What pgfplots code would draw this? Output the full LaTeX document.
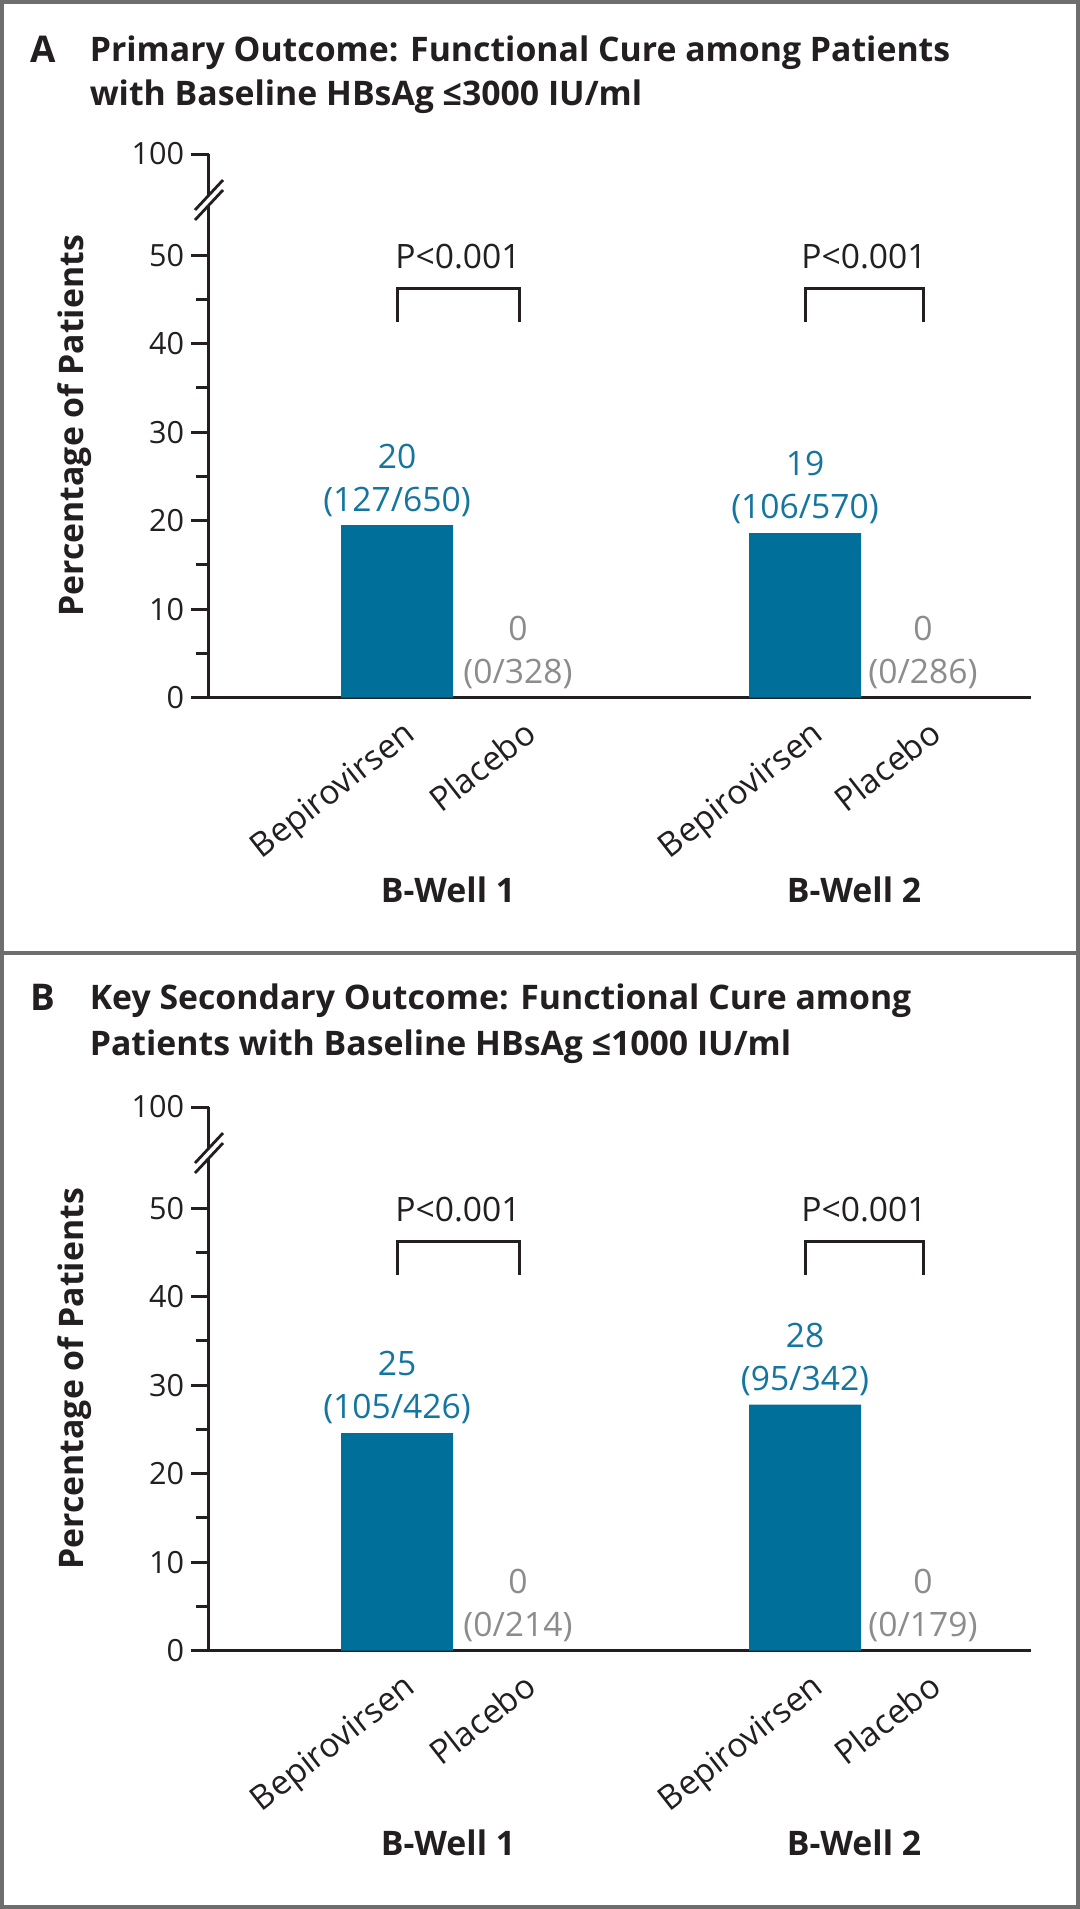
\documentclass[border=0pt]{standalone}
\usepackage{fontspec}
\setmainfont{Open Sans}
\usepackage{pgfplots}
\pgfplotsset{compat=1.18}
\definecolor{barblue}{RGB}{0,112,155}
\definecolor{lblblue}{RGB}{20,118,160}
\definecolor{lblgray}{RGB}{140,140,140}
\definecolor{ink}{RGB}{35,31,32}
\definecolor{framegray}{RGB}{110,110,110}
\newcommand\fsreg{\fontsize{8.4}{10.75}\selectfont}
\newcommand\fstick{\fontsize{7.65}{9}\selectfont}
\newcommand\fstitle{\fontsize{8.45}{11}\selectfont\bfseries}
\newcommand\fspanel{\fontsize{9.2}{11}\selectfont\bfseries}
\pgfplotsset{panel/.style={
  scale only axis, width=205.5pt, height=135.925pt, anchor=south west,
  xmin=209, xmax=1031, ymin=0, ymax=61.435,
  axis x line*=bottom, axis y line*=left,
  axis line style={line width=0.75pt, ink},
  xtick={397,518,805,923},
  xticklabels={Bepirovirsen,Placebo,Bepirovirsen,Placebo},
  xtick style={draw=none},
  xtick align=inside,
  xticklabel style={font=\fsreg, text=ink, inner sep=0pt, anchor=base east, xshift=5.2pt, yshift=-9.95pt, rotate=38},
  ytick={0,10,20,30,40,50,61.435},
  yticklabels={0,10,20,30,40,50,100},
  minor ytick={5,15,25,35,45},
  ytick align=outside,
  major tick length=4.5pt, minor tick length=3.25pt,
  ytick style={line width=0.75pt, ink},
  minor tick style={line width=0.75pt, ink},
  yticklabel style={font=\fstick, text=ink, inner sep=0pt, anchor=east, xshift=-1.5pt},
  ylabel={Percentage of Patients},
  ylabel style={at={(axis description cs:-0.1529,0.5)}, anchor=base, font=\fstitle, text=ink},
  clip=false,
}}
\pgfplotsset{barA/.style={ybar, bar width=112, bar shift=0pt, fill=barblue, draw=none,
  nodes near coords, point meta=explicit symbolic,
  every node near coord/.append style={font=\fsreg, align=center, anchor=south, inner sep=0pt, yshift=2pt, text=lblblue}},
  barP/.style={ybar, bar width=112, bar shift=0pt, fill=none, draw=none,
  nodes near coords, point meta=explicit symbolic,
  every node near coord/.append style={font=\fsreg, align=center, anchor=south, inner sep=0pt, yshift=2pt, text=lblgray}}}
\begin{document}
\begin{tikzpicture}
\fill[framegray] (0,0) rectangle (270pt,-477.25pt);
\fill[white] (1.1pt,-1.1pt) rectangle (268.9pt,-237.75pt);
\fill[white] (1.1pt,-238.8pt) rectangle (268.9pt,-476.15pt);
\useasboundingbox (0,0) rectangle (270pt,-477.25pt);

% Panel A
\begin{axis}[panel, at={(52.25pt,-174.425pt)}]
\addplot[barA] coordinates {(397,19.5) [20\\(127/650)] (805,18.6) [19\\(106/570)]};
\addplot[barP] coordinates {(518,0) [0\\(0/328)] (923,0) [0\\(0/286)]};
\draw[line width=0.75pt, ink] (axis cs:397,42.45) -- (axis cs:397,46.2) -- (axis cs:519,46.2) -- (axis cs:519,42.45);
\draw[line width=0.75pt, ink] (axis cs:805,42.45) -- (axis cs:805,46.2) -- (axis cs:923,46.2) -- (axis cs:923,42.45);
\node[anchor=base, inner sep=0pt, font=\fsreg, text=ink] at (axis cs:458,48.55) {P<0.001};
\node[anchor=base, inner sep=0pt, font=\fsreg, text=ink] at (axis cs:864,48.55) {P<0.001};
\end{axis}

% Panel B
\begin{axis}[panel, at={(52.25pt,-412.675pt)}]
\addplot[barA] coordinates {(397,24.6) [25\\(105/426)] (805,27.8) [28\\(95/342)]};
\addplot[barP] coordinates {(518,0) [0\\(0/214)] (923,0) [0\\(0/179)]};
\draw[line width=0.75pt, ink] (axis cs:397,42.45) -- (axis cs:397,46.2) -- (axis cs:519,46.2) -- (axis cs:519,42.45);
\draw[line width=0.75pt, ink] (axis cs:805,42.45) -- (axis cs:805,46.2) -- (axis cs:923,46.2) -- (axis cs:923,42.45);
\node[anchor=base, inner sep=0pt, font=\fsreg, text=ink] at (axis cs:458,48.55) {P<0.001};
\node[anchor=base, inner sep=0pt, font=\fsreg, text=ink] at (axis cs:864,48.55) {P<0.001};
\end{axis}

\begin{scope}[x=0.25pt, y=-0.25pt]
\foreach \off in {0,953} {
  \begin{scope}[yshift=-\off*0.25pt]
  \fill[white] (195,210) -- (223,180) -- (223,190) -- (195,220) -- cycle;
  \draw[line width=0.7pt, ink] (195,210) -- (223,180);
  \draw[line width=0.7pt, ink] (195,220) -- (223,190);
  \node[anchor=base, inner sep=0pt, font=\fstitle, text=ink] at (448,902.7) {B-Well 1};
  \node[anchor=base, inner sep=0pt, font=\fstitle, text=ink] at (854,902.7) {B-Well 2};
  \end{scope}
}
\node[anchor=base west, inner sep=0pt, font=\fspanel, text=ink] at (30,62) {A};
\node[anchor=base west, inner sep=0pt, font=\fstitle, text=ink] at (89,61) {Primary Outcome: Functional Cure among Patients};
\node[anchor=base west, inner sep=0pt, font=\fstitle, text=ink] at (89,105) {with Baseline HBsAg ≤3000 IU/ml};
\node[anchor=base west, inner sep=0pt, font=\fspanel, text=ink] at (30,1010) {B};
\node[anchor=base west, inner sep=0pt, font=\fstitle, text=ink] at (89,1009) {Key Secondary Outcome: Functional Cure among};
\node[anchor=base west, inner sep=0pt, font=\fstitle, text=ink] at (89,1055) {Patients with Baseline HBsAg ≤1000 IU/ml};
\end{scope}
\end{tikzpicture}
\end{document}
